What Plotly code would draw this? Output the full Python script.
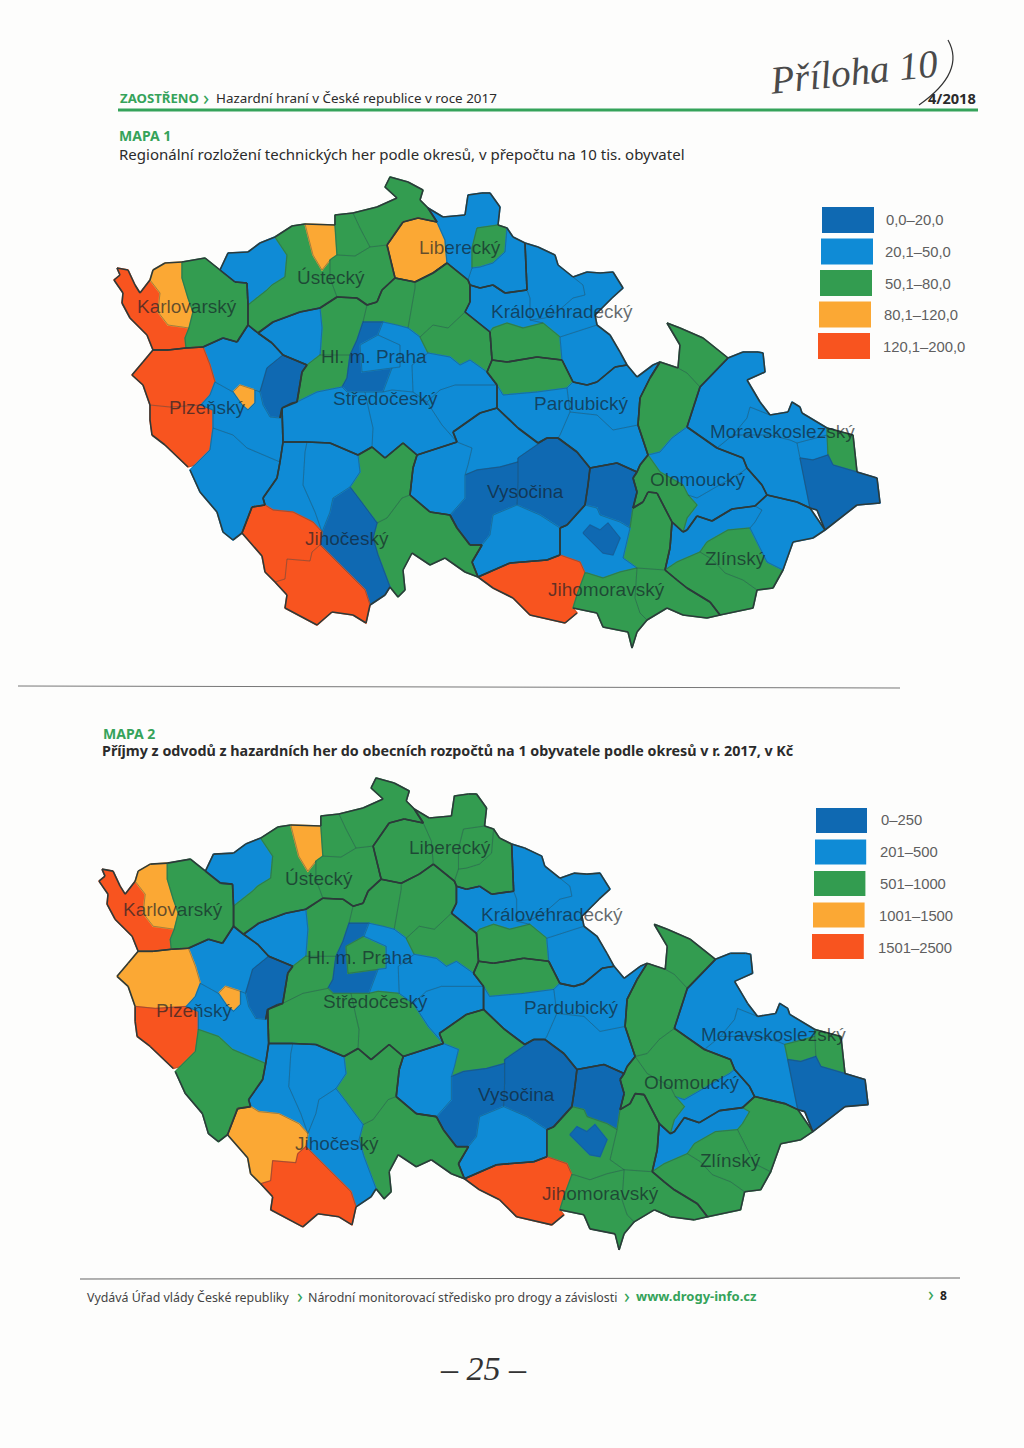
import plotly.graph_objects as go

# hranice okresu, souradnice podle mapy 1 (mapa 2 je stejna, jen posunuta pres vlastni osy)
OBRYSY = {
    "Cheb": [(117,268),(128,270),(135,285),(140,293),(150,280),(160,293),(158,312),(168,325),(189,328),(185,338),(186,348),(168,350),(153,350),(147,335),(130,318),(122,303),(123,293),(114,280),(120,275)],
    "Sokolov": [(150,280),(153,270),(165,263),(182,262),(182,278),(188,298),(193,312),(189,328),(168,325),(158,312),(160,293)],
    "Karlovy Vary": [(182,262),(205,258),(220,270),(235,282),(247,283),(248,305),(248,325),(237,342),(223,338),(203,347),(186,348),(185,338),(189,328),(193,312),(188,298),(182,278)],
    "Chomutov": [(220,270),(228,253),(248,252),(260,243),(275,237),(287,255),(285,277),(272,285),(267,290),(248,305),(247,283),(235,282)],
    "Louny": [(275,237),(292,226),(305,224),(313,255),(322,270),(330,260),(330,278),(337,297),(320,308),(300,312),(273,322),(258,333),(248,325),(248,305),(267,290),(272,285),(285,277),(287,255)],
    "Most": [(305,224),(335,225),(337,255),(330,260),(322,270),(313,255)],
    "Teplice": [(335,225),(335,215),(353,213),(360,228),(370,247),(355,256),(337,255)],
    "Děčín": [(353,213),(377,207),(397,198),(385,187),(390,177),(408,182),(423,190),(420,200),(428,208),(437,222),(418,218),(403,222),(387,245),(370,247),(360,228)],
    "Litoměřice": [(370,247),(387,245),(395,278),(382,290),(377,302),(367,305),(357,298),(337,297),(330,278),(330,260),(337,255),(355,256)],
    "Česká Lípa": [(403,222),(418,218),(437,222),(445,240),(447,263),(433,273),(415,282),(395,278),(387,245)],
    "Liberec": [(437,222),(428,208),(443,217),(465,215),(468,195),(482,193),(490,193),(500,207),(498,225),(477,228),(472,248),(472,268),(468,280),(447,263),(445,240)],
    "Jablonec": [(477,228),(498,225),(507,228),(505,252),(493,263),(480,267),(472,268),(472,248)],
    "Semily": [(507,228),(513,237),(525,243),(527,290),(505,293),(493,285),(480,288),(470,285),(468,280),(472,268),(480,267),(493,263),(505,252)],
    "Mladá Boleslav": [(447,263),(468,280),(470,285),(470,302),(465,312),(448,328),(433,325),(420,337),(408,328),(415,288),(415,282),(433,273)],
    "Mělník": [(395,278),(415,282),(415,288),(408,328),(397,325),(383,322),(363,322),(367,305),(377,302),(382,290)],
    "Kladno": [(337,297),(357,298),(367,305),(363,322),(357,340),(350,355),(333,355),(320,355),(322,328),(320,308)],
    "Rakovník": [(258,333),(273,322),(300,312),(320,308),(322,328),(320,355),(307,365),(283,355),(272,343)],
    "Plzeň-sever": [(203,347),(223,338),(237,342),(248,325),(258,333),(272,343),(283,355),(267,368),(263,382),(260,392),(255,390),(240,385),(233,392),(215,382),(210,365)],
    "Tachov": [(153,350),(168,350),(186,348),(203,347),(210,365),(215,382),(210,395),(201,405),(170,407),(150,405),(143,385),(132,375),(143,362)],
    "Domažlice": [(150,405),(170,407),(201,405),(213,410),(213,428),(210,450),(195,465),(188,467),(165,445),(152,435),(150,420)],
    "Plzeň-město": [(233,392),(240,385),(255,390),(255,403),(248,410),(242,405)],
    "Rokycany": [(267,368),(283,355),(307,365),(302,372),(297,402),(292,403),(282,408),(280,418),(270,417),(263,405),(260,392),(263,382)],
    "Plzeň-jih": [(215,382),(233,392),(242,405),(248,410),(255,403),(255,390),(260,392),(263,405),(270,417),(280,418),(282,408),(283,442),(280,462),(247,448),(233,435),(213,428),(213,410),(201,405),(210,395)],
    "Klatovy": [(213,428),(233,435),(247,448),(280,462),(277,478),(263,498),(265,505),(252,507),(242,533),(233,540),(223,532),(217,512),(200,492),(190,470),(195,465),(210,450)],
    "Beroun": [(307,365),(320,355),(333,355),(350,355),(347,378),(342,387),(317,392),(297,402),(302,372)],
    "Praha-západ": [(350,355),(357,340),(363,322),(383,322),(378,335),(360,345),(362,372),(392,368),(383,392),(347,392),(342,387),(347,378)],
    "Praha": [(360,345),(378,335),(400,345),(400,367),(392,368),(362,372)],
    "Praha-východ": [(383,322),(397,325),(408,328),(420,337),(428,353),(412,365),(413,392),(392,390),(383,392),(392,368),(400,367),(400,345),(378,335)],
    "Příbram": [(282,408),(297,402),(317,392),(342,387),(347,392),(365,392),(370,415),(373,428),(372,447),(358,455),(330,443),(307,442),(283,442)],
    "Benešov": [(365,392),(383,392),(392,390),(413,392),(427,402),(442,425),(457,442),(417,455),(403,443),(385,458),(372,447),(373,428),(370,415)],
    "Nymburk": [(420,337),(433,325),(448,328),(465,312),(490,332),(492,360),(487,372),(470,360),(460,365),(450,357),(428,353)],
    "Kolín": [(412,365),(428,353),(450,357),(460,365),(470,360),(487,372),(497,385),(455,385),(440,390),(427,402),(413,392)],
    "Kutná Hora": [(427,402),(440,390),(455,385),(497,385),(497,408),(480,413),(453,432),(457,442),(442,425)],
    "Jičín": [(470,285),(480,288),(493,285),(505,293),(527,290),(530,298),(530,320),(543,323),(523,328),(507,323),(493,328),(490,332),(465,312),(470,302)],
    "Trutnov": [(525,243),(538,247),(555,255),(558,265),(573,277),(583,285),(585,295),(573,298),(557,312),(545,318),(530,320),(530,298),(527,290)],
    "Náchod": [(573,277),(587,272),(600,273),(613,272),(623,288),(612,298),(595,315),(597,325),(560,337),(543,323),(530,320),(545,318),(557,312),(573,298),(585,295),(583,285)],
    "Hradec Králové": [(490,332),(493,328),(507,323),(523,328),(543,323),(560,337),(562,360),(537,357),(507,362),(492,360)],
    "Rychnov": [(560,337),(597,325),(610,335),(620,352),(627,365),(615,367),(597,382),(587,385),(573,382),(562,360)],
    "Pardubice": [(487,372),(492,360),(507,362),(537,357),(562,360),(573,382),(567,388),(537,392),(503,395),(497,385)],
    "Chrudim": [(497,385),(503,395),(537,392),(567,388),(570,412),(560,435),(558,438),(547,438),(538,443),(518,428),(497,408)],
    "Ústí nad Orlicí": [(567,388),(573,382),(587,385),(597,382),(615,367),(627,365),(637,377),(653,365),(660,362),(650,378),(640,398),(638,425),(613,430),(597,415),(570,412)],
    "Svitavy": [(570,412),(597,415),(613,430),(638,425),(647,452),(648,455),(640,465),(637,472),(617,463),(590,468),(577,452),(558,438),(560,435)],
    "Jeseník": [(667,323),(680,328),(703,338),(728,358),(700,387),(687,373),(678,368),(680,345)],
    "Šumperk": [(650,378),(660,362),(678,368),(687,373),(700,387),(687,427),(672,438),(660,452),(648,455),(647,452),(638,425),(640,398)],
    "Bruntál": [(728,358),(743,352),(758,352),(763,353),(765,372),(747,380),(760,402),(770,415),(750,407),(747,418),(733,435),(717,448),(687,427),(700,387)],
    "Opava": [(770,415),(788,412),(792,402),(800,407),(802,413),(827,428),(827,435),(797,443),(790,440),(770,435),(733,435),(747,418),(750,407)],
    "Nový Jičín": [(733,435),(770,435),(790,440),(797,443),(800,458),(810,508),(797,502),(780,498),(767,495),(762,485),(747,468),(743,458),(717,448)],
    "Ostrava": [(797,443),(827,435),(828,455),(813,460),(800,458)],
    "Karviná": [(827,428),(853,435),(857,472),(833,465),(828,455),(827,435)],
    "Frýdek-Místek": [(800,458),(813,460),(828,455),(833,465),(857,472),(877,478),(880,503),(857,505),(825,530),(817,510),(810,508)],
    "Olomouc": [(687,427),(717,448),(743,458),(747,468),(742,472),(697,498),(688,495),(683,485),(660,472),(648,455),(660,452),(672,438)],
    "Přerov": [(697,498),(742,472),(747,468),(762,485),(767,495),(755,506),(732,509),(712,521),(697,516),(687,530),(683,532),(687,518),(697,505),(688,495)],
    "Prostějov": [(648,455),(660,472),(683,485),(688,495),(697,505),(687,518),(683,532),(672,522),(657,493),(648,492),(643,502),(633,508),(637,492),(633,478),(637,472),(640,465)],
    "Kroměříž": [(672,522),(683,532),(687,530),(697,516),(712,521),(732,509),(755,506),(762,510),(755,522),(750,528),(728,530),(707,542),(700,552),(677,562),(665,570),(670,548)],
    "Zlín": [(707,542),(728,530),(750,528),(760,548),(767,562),(783,570),(773,588),(757,590),(743,580),(725,573),(713,560),(700,552)],
    "Uherské Hradiště": [(665,570),(677,562),(700,552),(713,560),(725,573),(743,580),(757,590),(753,608),(720,615),(710,602),(687,588),(677,580)],
    "Vsetín": [(755,506),(767,495),(780,498),(797,502),(810,508),(825,530),(813,538),(793,542),(783,570),(767,562),(760,548),(750,528),(755,522),(762,510)],
    "Blansko": [(590,468),(617,463),(637,472),(633,478),(637,492),(633,508),(630,528),(620,522),(600,515),(597,508),(585,505),(588,485)],
    "Vyškov": [(633,508),(643,502),(648,492),(657,493),(672,522),(670,548),(665,570),(637,568),(623,558),(630,528)],
    "Brno-venkov": [(560,528),(567,525),(585,505),(597,508),(600,515),(620,522),(630,528),(623,558),(637,568),(620,572),(603,578),(587,573),(585,573),(580,562),(560,555)],
    "Brno-město": [(583,533),(590,525),(600,530),(608,523),(620,538),(613,555),(603,553)],
    "Znojmo": [(478,577),(510,563),(547,560),(560,555),(580,562),(585,573),(577,595),(573,608),(577,613),(565,623),(530,615),(513,598),(493,588)],
    "Břeclav": [(577,595),(585,573),(587,573),(603,578),(620,572),(637,568),(635,598),(640,613),(647,620),(637,632),(632,648),(628,632),(603,627),(597,613),(573,608)],
    "Hodonín": [(637,568),(665,570),(677,580),(687,588),(710,602),(720,615),(707,618),(683,615),(667,608),(647,620),(640,613),(635,598)],
    "Havlíčkův Brod": [(453,432),(480,413),(497,408),(518,428),(538,443),(547,438),(518,458),(518,462),(500,467),(477,470),(465,475),(468,465),(472,448),(457,442)],
    "Žďár": [(518,458),(547,438),(558,438),(577,452),(590,468),(588,485),(585,505),(567,525),(560,528),(540,515),(517,505),(518,482)],
    "Jihlava": [(450,515),(465,498),(465,475),(477,470),(500,467),(518,462),(518,482),(517,505),(493,515),(490,535),(482,545),(470,545),(457,528)],
    "Třebíč": [(493,515),(517,505),(540,515),(560,528),(560,555),(547,560),(510,563),(478,577),(472,562),(482,545),(490,535)],
    "Pelhřimov": [(417,455),(457,442),(472,448),(468,465),(465,475),(465,498),(450,515),(430,512),(410,495),(413,468)],
    "Tábor": [(358,455),(372,447),(385,458),(403,443),(417,455),(413,468),(410,495),(402,498),(387,518),(377,523),(360,500),(350,487),(360,472)],
    "Jindřichův Hradec": [(402,498),(410,495),(430,512),(450,515),(457,528),(470,545),(482,545),(472,562),(478,577),(465,572),(445,558),(430,565),(412,553),(403,570),(405,590),(398,597),(390,587),(378,555),(373,538),(377,523),(387,518)],
    "České Budějovice": [(350,487),(360,500),(377,523),(373,538),(378,555),(390,587),(385,595),(370,605),(365,590),(345,570),(320,545),(322,532),(330,512),(333,498)],
    "Písek": [(307,442),(330,443),(358,455),(360,472),(350,487),(333,498),(330,512),(322,532),(315,512),(303,485),(305,452)],
    "Strakonice": [(283,442),(307,442),(305,452),(303,485),(315,512),(322,532),(313,522),(293,512),(273,510),(265,505),(263,498),(277,478),(280,462)],
    "Prachatice": [(242,533),(252,507),(265,505),(273,510),(293,512),(313,522),(322,532),(320,545),(312,552),(310,561),(287,559),(285,579),(275,582),(265,572),(262,556)],
    "Český Krumlov": [(275,582),(285,579),(287,559),(310,561),(312,552),(320,545),(345,570),(365,590),(370,605),(366,623),(353,615),(332,612),(317,625),(285,608),(287,595)],
}

OKRESY = list(OBRYSY)

KRAJE = {
    "Karlovarský": ["Cheb", "Sokolov", "Karlovy Vary"],
    "Plzeňský": ["Tachov", "Domažlice", "Plzeň-sever", "Plzeň-město", "Plzeň-jih", "Klatovy", "Rokycany"],
    "Ústecký": ["Chomutov", "Louny", "Most", "Teplice", "Děčín", "Litoměřice"],
    "Liberecký": ["Česká Lípa", "Liberec", "Jablonec", "Semily"],
    "Středočeský": ["Rakovník", "Kladno", "Mělník", "Mladá Boleslav", "Nymburk", "Kolín", "Kutná Hora", "Benešov", "Příbram", "Beroun", "Praha-západ", "Praha-východ", "Praha"],
    "Jihočeský": ["Strakonice", "Písek", "Tábor", "České Budějovice", "Jindřichův Hradec", "Prachatice", "Český Krumlov"],
    "Vysočina": ["Havlíčkův Brod", "Žďár", "Jihlava", "Pelhřimov", "Třebíč"],
    "Královéhradecký": ["Jičín", "Trutnov", "Náchod", "Rychnov", "Hradec Králové"],
    "Pardubický": ["Pardubice", "Chrudim", "Ústí nad Orlicí", "Svitavy"],
    "Olomoucký": ["Jeseník", "Šumperk", "Olomouc", "Prostějov", "Přerov"],
    "Moravskoslezský": ["Bruntál", "Opava", "Nový Jičín", "Ostrava", "Karviná", "Frýdek-Místek"],
    "Zlínský": ["Kroměříž", "Zlín", "Uherské Hradiště", "Vsetín"],
    "Jihomoravský": ["Znojmo", "Brno-venkov", "Brno-město", "Blansko", "Vyškov", "Břeclav", "Hodonín"],
}

# trida legendy pro kazdy okres (0 = nejnizsi, 4 = nejvyssi)
MAPA1 = {
    "Cheb": 4, "Sokolov": 3, "Karlovy Vary": 2, "Chomutov": 1, "Louny": 2, "Most": 3, "Teplice": 2, "Děčín": 2,
    "Litoměřice": 2, "Česká Lípa": 3, "Liberec": 1, "Jablonec": 2, "Semily": 1, "Mladá Boleslav": 2, "Mělník": 2,
    "Kladno": 2, "Rakovník": 1, "Plzeň-sever": 1, "Tachov": 4, "Domažlice": 4, "Plzeň-město": 3, "Rokycany": 0,
    "Plzeň-jih": 1, "Klatovy": 1, "Beroun": 2, "Praha-západ": 0, "Praha": 1, "Praha-východ": 1, "Příbram": 1,
    "Benešov": 1, "Nymburk": 2, "Kolín": 1, "Kutná Hora": 1, "Jičín": 1, "Trutnov": 1, "Náchod": 1,
    "Hradec Králové": 2, "Rychnov": 1, "Pardubice": 2, "Chrudim": 1, "Ústí nad Orlicí": 1, "Svitavy": 1,
    "Jeseník": 2, "Šumperk": 2, "Bruntál": 1, "Opava": 1, "Nový Jičín": 1, "Ostrava": 1, "Karviná": 2,
    "Frýdek-Místek": 0, "Olomouc": 1, "Přerov": 1, "Prostějov": 2, "Kroměříž": 1, "Zlín": 2, "Uherské Hradiště": 2,
    "Vsetín": 1, "Blansko": 0, "Vyškov": 2, "Brno-venkov": 1, "Brno-město": 0, "Znojmo": 4, "Břeclav": 2,
    "Hodonín": 2, "Havlíčkův Brod": 1, "Žďár": 0, "Jihlava": 0, "Třebíč": 1, "Pelhřimov": 1, "Tábor": 2,
    "Jindřichův Hradec": 2, "České Budějovice": 0, "Písek": 1, "Strakonice": 1, "Prachatice": 4, "Český Krumlov": 4,
}
MAPA2 = dict(MAPA1)
MAPA2.update({
    "Česká Lípa": 2, "Liberec": 2, "Semily": 2, "Tachov": 3, "Klatovy": 2, "Praha": 2, "Příbram": 2, "Benešov": 2,
    "Havlíčkův Brod": 2, "Olomouc": 2, "Brno-venkov": 2, "Vsetín": 2, "Ostrava": 2, "České Budějovice": 1,
    "Prachatice": 3,
})

LEGENDA1 = ["0,0–20,0", "20,1–50,0", "50,1–80,0", "80,1–120,0", "120,1–200,0"]
LEGENDA2 = ["0–250", "201–500", "501–1000", "1001–1500", "1501–2500"]
BARVY = ["#0f69b2", "#0f8bd6", "#339c50", "#fba834", "#f8541f"]

POPISKY = ["Karlovarský", "Ústecký", "Liberecký", "Královéhradecký", "Hl. m. Praha", "Středočeský", "Plzeňský",
           "Pardubický", "Moravskoslezský", "Vysočina", "Olomoucký", "Jihočeský", "Zlínský", "Jihomoravský"]
POPISKY1_X = [187, 331, 460, 562, 374, 385, 207, 581, 782, 525, 698, 347, 735, 606]
POPISKY1_Y = [306, 277, 247, 311, 356, 398, 407, 403, 431, 491, 479, 538, 558, 589]
POPISKY2_X = [173, 319, 450, 552, 360, 375, 194, 571, 773, 516, 692, 337, 730, 600]
POPISKY2_Y = [909, 878, 847, 914, 957, 1001, 1010, 1007, 1034, 1094, 1082, 1143, 1160, 1193]


def v_polygonu(x, y, body):
    uvnitr = False
    for i in range(len(body)):
        x1, y1 = body[i]
        x2, y2 = body[(i + 1) % len(body)]
        if (y1 > y) != (y2 > y) and x < (x2 - x1) * (y - y1) / (y2 - y1) + x1:
            uvnitr = not uvnitr
    return uvnitr


def kraje_v_bode(x, y):
    vysledek = set()
    for kraj, okresy in KRAJE.items():
        for okres in okresy:
            if v_polygonu(x, y, OBRYSY[okres]):
                vysledek.add(kraj)
    return vysledek


# hrana mezi dvema kraji nebo na okraji statu je tlusta, uvnitr kraje tenka
def hranice():
    silne_x, silne_y, slabe_x, slabe_y = [], [], [], []
    for okres in OKRESY:
        body = OBRYSY[okres]
        for i in range(len(body)):
            x1, y1 = body[i]
            x2, y2 = body[(i + 1) % len(body)]
            dx, dy = x2 - x1, y2 - y1
            d = max((dx ** 2 + dy ** 2) ** 0.5, 0.1)
            sx, sy = (x1 + x2) / 2, (y1 + y2) / 2
            a = kraje_v_bode(sx - dy / d * 3, sy + dx / d * 3)
            b = kraje_v_bode(sx + dy / d * 3, sy - dx / d * 3)
            if a & b:
                slabe_x += [x1, x2, None]
                slabe_y += [y1, y2, None]
            else:
                silne_x += [x1, x2, None]
                silne_y += [y1, y2, None]
    return silne_x, silne_y, slabe_x, slabe_y


fig = go.Figure()
SILNE_X, SILNE_Y, SLABE_X, SLABE_Y = hranice()


def pridej_mapu(tridy, osa_x, osa_y):
    for okres in OKRESY:
        body = OBRYSY[okres] + OBRYSY[okres][:1]
        barva = BARVY[tridy[okres]]
        fig.add_trace(go.Scatter(
            x=[p[0] for p in body], y=[p[1] for p in body], mode="lines", fill="toself",
            fillcolor=barva, line=dict(color=barva, width=1.5), name=okres,
            xaxis=osa_x, yaxis=osa_y, showlegend=False, hoverinfo="name"))
    fig.add_trace(go.Scatter(x=SLABE_X, y=SLABE_Y, mode="lines", xaxis=osa_x, yaxis=osa_y, showlegend=False,
                             line=dict(color="rgba(40,70,80,0.3)", width=0.8), hoverinfo="skip"))
    fig.add_trace(go.Scatter(x=SILNE_X, y=SILNE_Y, mode="lines", xaxis=osa_x, yaxis=osa_y, showlegend=False,
                             line=dict(color="#2c3a3a", width=1.6), hoverinfo="skip"))


pridej_mapu(MAPA1, "x", "y")
pridej_mapu(MAPA2, "x2", "y2")


def text(x, y, t, size, barva="#2b2b2b", family="Noto Sans", anchor="left", **kw):
    fig.add_annotation(x=x, y=y, xref="x", yref="y", text=t, showarrow=False, xanchor=anchor, yanchor="middle",
                       font=dict(family=family, size=size, color=barva), **kw)


def cara(x0, y0, x1, y1, barva, sirka):
    fig.add_shape(type="line", x0=x0, y0=y0, x1=x1, y1=y1, xref="x", yref="y", line=dict(color=barva, width=sirka))


# popisky kraju musi lezet nad obema mapami, proto anotace
for xs, ys in ((POPISKY1_X, POPISKY1_Y), (POPISKY2_X, POPISKY2_Y)):
    for popisek, px, py in zip(POPISKY, xs, ys):
        text(px, py, popisek, 19, "rgba(20,30,40,0.66)", "Liberation Sans", "center")

ZELENA = "#35a35a"

# zahlavi
text(118, 98, "<b>ZAOSTŘENO</b>", 13.2, ZELENA)
text(201, 97, "›", 20, ZELENA)
text(214, 98, "Hazardní hraní v České republice v roce 2017", 13.4)
text(926, 98, "<b>4/2018</b>", 14.6)
cara(118, 110, 978, 110, ZELENA, 3)
text(117, 135, "<b>MAPA 1</b>", 14, ZELENA)
text(117, 154, "Regionální rozložení technických her podle okresů, v přepočtu na 10 tis. obyvatel", 15)
text(101, 733, "<b>MAPA 2</b>", 14, ZELENA)
text(100, 750, "<b>Příjmy z odvodů z hazardních her do obecních rozpočtů na 1 obyvatele podle okresů v r. 2017, v Kč</b>", 14.3)
cara(18, 686, 900, 688, "#777777", 1)

# rukou psane poznamky
text(765, 71, "<i>Příloha 10</i>", 39, "#4a4a4a", "Liberation Serif", textangle=-6)
fig.add_shape(type="path", path="M 948 40 Q 966 72 919 105", xref="x", yref="y", line=dict(color="#333333", width=1.2))
text(483, 1368, "<i>– 25 –</i>", 34, "#333333", "Liberation Serif", "center")

# legendy
for i, popis in enumerate(LEGENDA1):
    fig.add_shape(type="rect", x0=822 - i, x1=874 - i, y0=207 + i * 31.5, y1=233 + i * 31.5, xref="x", yref="y",
                  fillcolor=BARVY[i], line=dict(width=0))
    text(884 - i * 0.7, 220 + i * 31.8, popis, 14.8, "#5f5f5f", "Liberation Sans")
for i, popis in enumerate(LEGENDA2):
    fig.add_shape(type="rect", x0=816 - i, x1=867 - i * 0.8, y0=808 + i * 31.5, y1=833 + i * 31.5, xref="x", yref="y",
                  fillcolor=BARVY[i], line=dict(width=0))
    text(879 - i * 0.7, 820 + i * 32, popis, 14.8, "#5f5f5f", "Liberation Sans")

# zapati
cara(80, 1279, 960, 1278, "#666666", 1)
text(85, 1297, "Vydává Úřad vlády České republiky", 12.4, "#444444")
text(295, 1296, "›", 19, ZELENA)
text(306, 1297, "Národní monitorovací středisko pro drogy a závislosti", 12.4, "#444444")
text(622, 1296, "›", 19, ZELENA)
text(634, 1296, "<b>www.drogy-info.cz</b>", 13, ZELENA)
text(926, 1294, "›", 19, ZELENA)
text(938, 1295, "<b>8</b>", 12, "#222222")

# prevod mapy 1 na mapu 2: px2 = 1.004 * x - 15.45, py2 = 1.002 * y + 600.6
X_MERITKO, X_POSUN = 1.004, -15.45
Y_MERITKO, Y_POSUN = 1.002, 600.6
SIRKA, VYSKA = 1024, 1448
skryta = dict(visible=False, domain=[0, 1])
fig.update_layout(
    width=SIRKA, height=VYSKA, margin=dict(l=0, r=0, t=0, b=0),
    paper_bgcolor="#fdfdfc", plot_bgcolor="rgba(0,0,0,0)", showlegend=False,
    xaxis=dict(range=[0, SIRKA], **skryta),
    yaxis=dict(range=[VYSKA, 0], **skryta),
    xaxis2=dict(range=[(0 - X_POSUN) / X_MERITKO, (SIRKA - X_POSUN) / X_MERITKO], anchor="y2", **skryta),
    yaxis2=dict(range=[(VYSKA - Y_POSUN) / Y_MERITKO, (0 - Y_POSUN) / Y_MERITKO], anchor="x2", **skryta),
)

fig.write_html("out.html", config=dict(displayModeBar=False),
               post_script="document.body.style.margin='0';document.body.style.overflow='hidden';")
